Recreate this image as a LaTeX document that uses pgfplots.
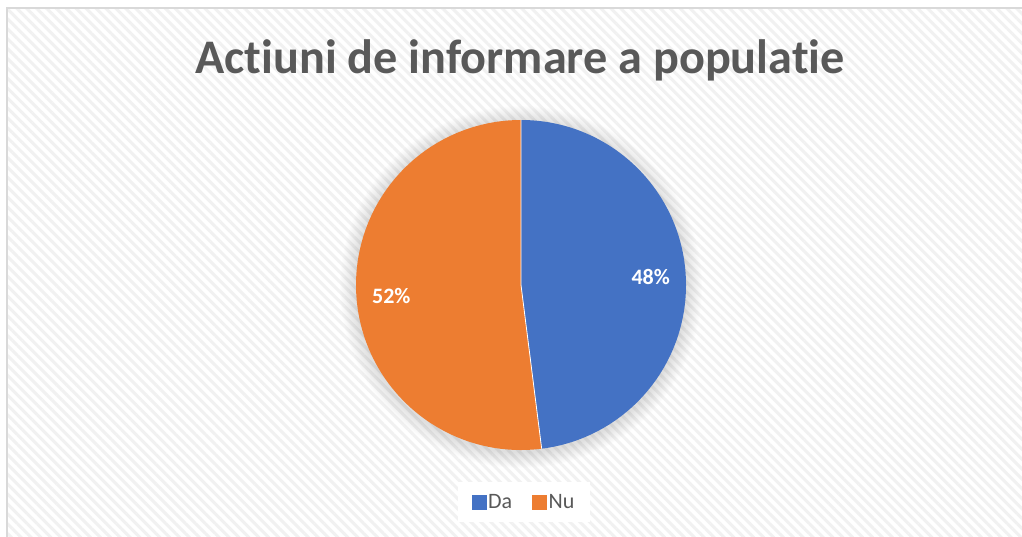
\documentclass[border=0pt]{standalone}
\usepackage{pgfplots}
\pgfplotsset{compat=1.18}
\usepackage{fontspec}
\setmainfont{Carlito}[Ligatures={NoCommon,NoRequired,NoContextual}]
\usetikzlibrary{patterns.meta}
\definecolor{cblue}{HTML}{4472C4}
\definecolor{corange}{HTML}{ED7D31}
\definecolor{ctitle}{HTML}{595959}
\definecolor{cborder}{HTML}{D9D9D9}
\definecolor{cstripe}{HTML}{F1F1F1}

% data (percent)
\newcommand{\valDa}{48}
\newcommand{\valNu}{52}

\begin{document}
\begin{tikzpicture}
\pgfmathsetmacro{\angDa}{90-3.6*\valDa}
\pgfmathsetmacro{\midDa}{90-1.8*\valDa}
\pgfmathsetmacro{\midNu}{\angDa-1.8*\valNu}
\pgfmathsetmacro{\ex}{521+165*cos(\angDa)}
\pgfmathsetmacro{\ey}{251+165*sin(\angDa)}
\pgfmathsetmacro{\lax}{521+130*cos(\midDa)}
\pgfmathsetmacro{\lay}{251+130*sin(\midDa)}
\pgfmathsetmacro{\lbx}{521+130*cos(\midNu)}
\pgfmathsetmacro{\lby}{251+130*sin(\midNu)-3}
\begin{axis}[at={(0,0)}, anchor=origin, x=1pt, y=1pt, hide axis,
  xmin=0, xmax=1022, ymin=0, ymax=536, clip=false,
  legend columns=2,
  legend style={at={(axis cs:524,34)}, anchor=center, draw=none, fill=white,
    font=\fontsize{22}{26}\selectfont, text=ctitle, inner xsep=14pt, inner ysep=10pt,
    /tikz/every even column/.append style={column sep=18pt}},
  legend image code/.code={\fill[#1] (-5pt,-7pt) rectangle (9pt,7pt);},
]
\addlegendimage{cblue}
\addlegendentry{Da}
\addlegendimage{corange}
\addlegendentry{Nu}
\coordinate (SW) at (axis cs:0,0);
\coordinate (NE) at (axis cs:1022,536);
\fill[white] (axis cs:0,0) rectangle (axis cs:1022,536);
\fill[pattern={Lines[angle=-45,distance=7pt,line width=3pt]}, pattern color=cstripe] (axis cs:7,0) rectangle (axis cs:1030,528);
\draw[cborder, line width=1.5pt] (axis cs:7,-5) -- (axis cs:7,528) -- (axis cs:1030,528);
\node[font=\bfseries\fontsize{48.2}{57}\selectfont, text=ctitle] at (axis cs:520,476) {Actiuni de informare a populatie};
\pgfplotsinvokeforeach{1,...,16}{\fill[black, opacity=0.006] (axis cs:521,249) circle[radius=165pt+#1pt];}
\fill[cblue] (axis cs:521,251) -- (axis cs:521,416) arc[start angle=90, end angle=\angDa, radius=165pt] -- cycle;
\fill[corange] (axis cs:521,251) -- (axis cs:\ex,\ey) arc[start angle=\angDa, end angle=-270, radius=165pt] -- cycle;
\draw[white, line width=0.8pt] (axis cs:521,416) -- (axis cs:521,251) -- (axis cs:\ex,\ey);
\node[text=white, font=\bfseries\fontsize{22}{26}\selectfont] at (axis cs:\lax,\lay) {\valDa\%};
\node[text=white, font=\bfseries\fontsize{22}{26}\selectfont] at (axis cs:\lbx,\lby) {\valNu\%};
\end{axis}
\pgfresetboundingbox
\path[use as bounding box] (SW) rectangle (NE);
\end{tikzpicture}
\end{document}
